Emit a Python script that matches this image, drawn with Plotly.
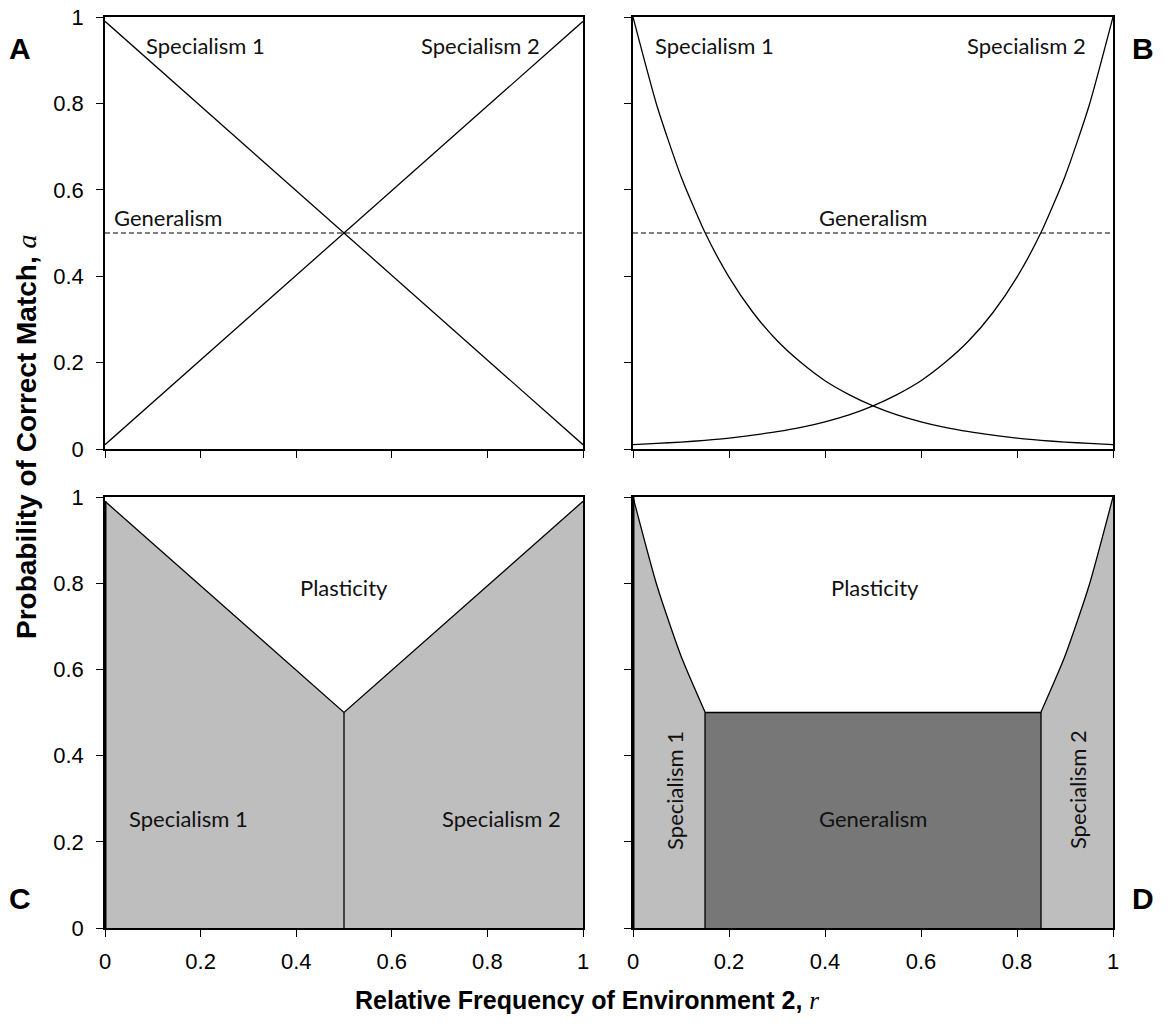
import plotly.graph_objects as go

# ---- data ----
r = [0.0, 0.05, 0.1, 0.15, 0.2, 0.25, 0.3, 0.35, 0.4, 0.45, 0.5,
     0.55, 0.6, 0.65, 0.7, 0.75, 0.8, 0.85, 0.9, 0.95, 1.0]
# Panel A: linear specialists
lin_r = [0.0, 0.5, 1.0]
lin_spec1 = [0.99, 0.5, 0.01]
lin_spec2 = [0.01, 0.5, 0.99]
# Panel B: curved specialists
cur_spec1 = [1.000, 0.794, 0.631, 0.501, 0.398, 0.316, 0.251, 0.200, 0.158, 0.126, 0.100,
             0.079, 0.063, 0.050, 0.040, 0.032, 0.025, 0.020, 0.016, 0.013, 0.010]
cur_spec2 = cur_spec1[::-1]
generalism = 0.5
# Panel C / D region boundaries
c_boundary = 0.5
d_low, d_high = 0.15, 0.85
ticks = [0, 0.2, 0.4, 0.6, 0.8, 1]
tick_text = ["0", "0.2", "0.4", "0.6", "0.8", "1"]

W, H = 1172, 1024
LIGHT = "#BEBEBE"
DARK = "#777777"
TXT = "Lato"

fig = go.Figure()

def px_x(a, b):
    return [a / W, b / W]

def px_y(top, bottom):
    return [1 - bottom / H, 1 - top / H]

xdom_L = px_x(105, 583)
xdom_R = px_x(633, 1113)
ydom_T = px_y(17, 449)
ydom_B = px_y(497, 928)

axes = {
    1: (xdom_L, ydom_T, False, True),
    2: (xdom_R, ydom_T, False, False),
    3: (xdom_L, ydom_B, True, True),
    4: (xdom_R, ydom_B, True, False),
}
for i, (xd, yd, showx, showy) in axes.items():
    sx = "" if i == 1 else str(i)
    common = dict(range=[0, 1], showgrid=False, zeroline=False, showline=True,
                  mirror=True, linecolor="black", linewidth=1.6, ticks="outside",
                  ticklen=7, tickwidth=1.2, tickcolor="black", tickvals=ticks,
                  ticktext=tick_text, automargin=False,
                  tickfont=dict(family="Liberation Sans, Arial", size=22, color="black"))
    fig.layout["xaxis" + sx] = dict(common, domain=xd, anchor="y" + sx,
                                    showticklabels=showx, ticklabelstandoff=6)
    fig.layout["yaxis" + sx] = dict(common, domain=yd, anchor="x" + sx,
                                    showticklabels=showy, ticklabelstandoff=8)

line = dict(color="black", width=1.3)
sline = dict(color="black", width=1.3, shape="spline", smoothing=0.6)

# Panel A
fig.add_trace(go.Scatter(x=lin_r, y=lin_spec1, mode="lines", line=line, xaxis="x", yaxis="y"))
fig.add_trace(go.Scatter(x=lin_r, y=lin_spec2, mode="lines", line=line, xaxis="x", yaxis="y"))
fig.add_trace(go.Scatter(x=[0, 1], y=[generalism, generalism], mode="lines",
                         line=dict(color="black", width=1.2, dash="5px,3px"), xaxis="x", yaxis="y"))
# Panel B
fig.add_trace(go.Scatter(x=r, y=cur_spec1, mode="lines", line=sline, xaxis="x2", yaxis="y2"))
fig.add_trace(go.Scatter(x=r, y=cur_spec2, mode="lines", line=sline, xaxis="x2", yaxis="y2"))
fig.add_trace(go.Scatter(x=[0, 1], y=[generalism, generalism], mode="lines",
                         line=dict(color="black", width=1.2, dash="5px,3px"), xaxis="x2", yaxis="y2"))

# Panel C
c_env = [max(a, b) for a, b in zip(lin_spec1, lin_spec2)]
fig.add_trace(go.Scatter(x=lin_r, y=c_env, mode="lines", line=line, fill="tozeroy",
                         fillcolor=LIGHT, xaxis="x3", yaxis="y3"))
fig.add_trace(go.Scatter(x=[c_boundary, c_boundary], y=[0, generalism], mode="lines",
                         line=line, xaxis="x3", yaxis="y3"))
fig.add_trace(go.Scatter(x=[0, 0], y=[0, c_env[0]], mode="lines",
                         line=dict(color="black", width=3), xaxis="x3", yaxis="y3"))

# Panel D
left_x = [x for x in r if x <= d_low + 1e-9]
left_y = cur_spec1[:len(left_x)]
right_x = [x for x in r if x >= d_high - 1e-9]
right_y = cur_spec2[len(r) - len(right_x):]
fig.add_trace(go.Scatter(x=left_x, y=left_y, mode="lines", line=sline, fill="tozeroy",
                         fillcolor=LIGHT, xaxis="x4", yaxis="y4"))
fig.add_trace(go.Scatter(x=right_x, y=right_y, mode="lines", line=sline, fill="tozeroy",
                         fillcolor=LIGHT, xaxis="x4", yaxis="y4"))
fig.add_trace(go.Scatter(x=[d_low, d_low, d_high, d_high], y=[0, generalism, generalism, 0],
                         mode="lines", line=line, fill="toself", fillcolor=DARK,
                         xaxis="x4", yaxis="y4"))
fig.add_trace(go.Scatter(x=[0, 0], y=[0, cur_spec1[0]], mode="lines",
                         line=dict(color="black", width=3), xaxis="x4", yaxis="y4"))

# Text labels
def lab(text, x, y, xr, yr, angle=0):
    fig.add_annotation(text=text, x=x, y=y, xref=xr, yref=yr, showarrow=False,
                       xanchor="center", yanchor="middle",
                       textangle=angle, font=dict(family=TXT, size=22, color="#111111"))

lab("Specialism 1", 0.21, 0.935, "x", "y")
lab("Specialism 2", 0.785, 0.935, "x", "y")
lab("Generalism", 0.132, 0.535, "x", "y")
lab("Specialism 1", 0.17, 0.935, "x2", "y2")
lab("Specialism 2", 0.82, 0.935, "x2", "y2")
lab("Generalism", 0.5, 0.535, "x2", "y2")
lab("Plasticity", 0.5, 0.79, "x3", "y3")
lab("Specialism 1", 0.175, 0.255, "x3", "y3")
lab("Specialism 2", 0.83, 0.255, "x3", "y3")
lab("Plasticity", 0.505, 0.79, "x4", "y4")
lab("Generalism", 0.5, 0.255, "x4", "y4")
lab("Specialism 1", 0.085, 0.32, "x4", "y4", -90)
lab("Specialism 2", 0.925, 0.32, "x4", "y4", -90)

for t, xp, yp in [("A", 20, 48), ("B", 1143, 48), ("C", 20, 898), ("D", 1143, 898)]:
    fig.add_annotation(text="<b>%s</b>" % t, x=xp / W, y=1 - yp / H, xref="paper", yref="paper",
                       showarrow=False, xanchor="center", yanchor="middle",
                       font=dict(family="Liberation Sans, Arial", size=30, color="black"))

fig.add_annotation(text="<b>Relative Frequency of Environment 2, </b><span style='font-family:Liberation Serif, Times New Roman'><i>r</i></span>",
                   x=587 / W, y=1 - 1000 / H, xref="paper", yref="paper", showarrow=False,
                   xanchor="center", yanchor="middle",
                   font=dict(family="Liberation Sans, Arial", size=25, color="black"))
fig.add_annotation(text="<b>Probability of Correct Match, </b><span style='font-family:Liberation Serif, Times New Roman'><i>a</i></span>",
                   x=26 / W, y=1 - 437 / H, xref="paper", yref="paper", showarrow=False,
                   xanchor="center", yanchor="middle",
                   textangle=-90, font=dict(family="Liberation Sans, Arial", size=28, color="black"))

fig.update_layout(width=W, height=H, margin=dict(l=0, r=0, t=0, b=0),
                  paper_bgcolor="white", plot_bgcolor="white", showlegend=False)

fig.write_html("out.html")
